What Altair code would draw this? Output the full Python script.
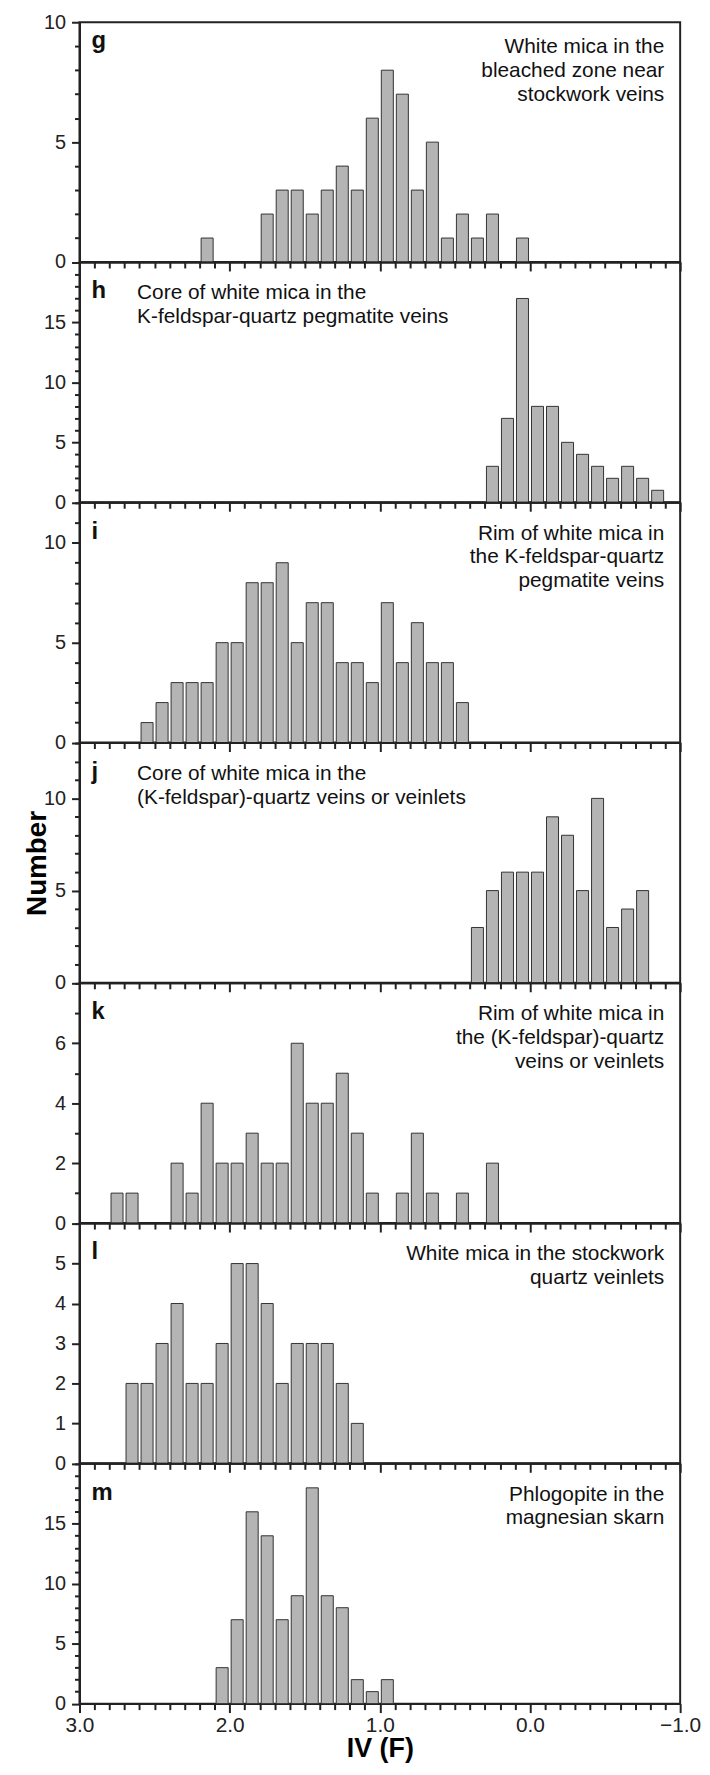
import altair as alt
import pandas as pd

# ---------------- data (bin centres of IV(F), 0.1-wide bins, and counts) ----------------
g_centers = [2.15, 1.75, 1.65, 1.55, 1.45, 1.35, 1.25, 1.15, 1.05, 0.95, 0.85, 0.75,
             0.65, 0.55, 0.45, 0.35, 0.25, 0.05]
g_counts = [1, 2, 3, 3, 2, 3, 4, 3, 6, 8, 7, 3, 5, 1, 2, 1, 2, 1]

h_centers = [0.25, 0.15, 0.05, -0.05, -0.15, -0.25, -0.35, -0.45, -0.55, -0.65, -0.75, -0.85]
h_counts = [3, 7, 17, 8, 8, 5, 4, 3, 2, 3, 2, 1]

i_centers = [2.55, 2.45, 2.35, 2.25, 2.15, 2.05, 1.95, 1.85, 1.75, 1.65, 1.55, 1.45,
             1.35, 1.25, 1.15, 1.05, 0.95, 0.85, 0.75, 0.65, 0.55, 0.45]
i_counts = [1, 2, 3, 3, 3, 5, 5, 8, 8, 9, 5, 7, 7, 4, 4, 3, 7, 4, 6, 4, 4, 2]

j_centers = [0.35, 0.25, 0.15, 0.05, -0.05, -0.15, -0.25, -0.35, -0.45, -0.55, -0.65, -0.75]
j_counts = [3, 5, 6, 6, 6, 9, 8, 5, 10, 3, 4, 5]

k_centers = [2.75, 2.65, 2.35, 2.25, 2.15, 2.05, 1.95, 1.85, 1.75, 1.65, 1.55, 1.45,
             1.35, 1.25, 1.15, 1.05, 0.85, 0.75, 0.65, 0.45, 0.25]
k_counts = [1, 1, 2, 1, 4, 2, 2, 3, 2, 2, 6, 4, 4, 5, 3, 1, 1, 3, 1, 1, 2]

l_centers = [2.65, 2.55, 2.45, 2.35, 2.25, 2.15, 2.05, 1.95, 1.85, 1.75, 1.65, 1.55,
             1.45, 1.35, 1.25, 1.15]
l_counts = [2, 2, 3, 4, 2, 2, 3, 5, 5, 4, 2, 3, 3, 3, 2, 1]

m_centers = [2.05, 1.95, 1.85, 1.75, 1.65, 1.55, 1.45, 1.35, 1.25, 1.15, 1.05, 0.95]
m_counts = [3, 7, 16, 14, 7, 9, 18, 9, 8, 2, 1, 2]

# axis tick labels
x_major_labels = [3.0, 2.0, 1.0, 0.0, -1.0]
x_minor_step = 0.1
y_labels = {
    "g": [0, 5, 10], "h": [0, 5, 10, 15], "i": [0, 5, 10], "j": [0, 5, 10],
    "k": [0, 2, 4, 6], "l": [0, 1, 2, 3, 4, 5], "m": [0, 5, 10, 15],
}
y_max = {"g": 10, "h": 20, "i": 12, "j": 13, "k": 8, "l": 6, "m": 20}

texts = {
    "g": ["White mica in the", "bleached zone near", "stockwork veins"],
    "h": ["Core of white mica in the", "K-feldspar-quartz pegmatite veins"],
    "i": ["Rim of white mica in", "the K-feldspar-quartz", "pegmatite veins"],
    "j": ["Core of white mica in the", "(K-feldspar)-quartz veins or veinlets"],
    "k": ["Rim of white mica in", "the (K-feldspar)-quartz", "veins or veinlets"],
    "l": ["White mica in the stockwork", "quartz veinlets"],
    "m": ["Phlogopite in the", "magnesian skarn"],
}
text_align = {"g": "right", "h": "left", "i": "right", "j": "left",
              "k": "right", "l": "right", "m": "right"}

# ---------------- style ----------------
FONT = "Liberation Sans"
FRAME = "#222222"
W, H = 605, 241.5
BAR_HALF = 0.04

x_tick_values = [round(x_major_labels[0] - x_minor_step * k, 1)
                 for k in range(int(round((x_major_labels[0] - x_major_labels[-1]) / x_minor_step)) + 1)]
major_x_test = "abs(datum.value - round(datum.value)) < 0.001"


def panel(key, centers, counts, bottom=False, ytitle=False):
    df = pd.DataFrame({"c": centers, "n": counts})
    ymax = y_max[key]
    labs = y_labels[key]
    lab_arr = "[" + ",".join(str(v) for v in labs) + "]"
    ytest = f"indexof({lab_arr}, datum.value) >= 0"

    xaxis_kw = dict(
        values=x_tick_values,
        tickSize={"condition": {"test": major_x_test, "value": 9}, "value": 6},
        labels=bottom,
        labelExpr=f"{major_x_test} ? format(datum.value, '.1f') : ''",
        labelOverlap=False,
        labelFlush=False,
        labelFontSize=21,
        labelPadding=2,
        grid=False,
    )
    if bottom:
        xaxis_kw.update(title="IV (F)", titleFontSize=27, titleFontWeight="bold",
                        titlePadding=0, titleColor="#000")
    xaxis = alt.Axis(**xaxis_kw)

    yaxis_kw = dict(
        values=list(range(0, ymax + 1)),
        tickSize={"condition": {"test": ytest, "value": 8}, "value": 5},
        labelExpr=f"{ytest} ? datum.label : ''",
        labelOverlap=False,
        labelFontSize=20,
        labelPadding=6,
        grid=False,
    )
    if ytitle:
        yaxis_kw.update(title="Number", titleFontSize=28, titleFontWeight="bold",
                        titleX=-28, titleY=H / 2, titleColor="#000")
    yaxis = alt.Axis(**yaxis_kw)

    xscale = alt.Scale(domain=[-1, 3], reverse=True, nice=False, zero=False)
    yscale = alt.Scale(domain=[0, ymax], nice=False)
    if bottom:
        xenc = alt.X("x1:Q", scale=xscale, axis=xaxis)
    else:
        xenc = alt.X("x1:Q", scale=xscale, axis=xaxis, title=None)
    if ytitle:
        yenc = alt.Y("n:Q", scale=yscale, axis=yaxis)
    else:
        yenc = alt.Y("n:Q", scale=yscale, axis=yaxis, title=None)

    bars = (
        alt.Chart(df)
        .transform_calculate(x1=f"datum.c + {BAR_HALF}", x2=f"datum.c - {BAR_HALF}")
        .mark_rect(fill="#b4b4b4", stroke="#333333", strokeWidth=1)
        .encode(x=xenc, x2="x2:Q", y=yenc, y2=alt.datum(0))
    )

    letter_base = 26 if key == "g" else 36
    text_base = 31 if key == "g" else 37
    letter = (
        alt.Chart(pd.DataFrame({"t": [key]}))
        .mark_text(align="left", baseline="alphabetic", fontSize=24, fontWeight="bold",
                   font=FONT, color="#111")
        .encode(text="t:N", x=alt.value(12), y=alt.value(letter_base))
    )
    al = text_align[key]
    tx = W - 16 if al == "right" else 58
    note = (
        alt.Chart(pd.DataFrame({"t": [0]}))
        .mark_text(text=texts[key], align=al, baseline="alphabetic", fontSize=21,
                   lineHeight=24, font=FONT, color="#111")
        .encode(x=alt.value(tx), y=alt.value(text_base))
    )
    return alt.layer(bars, letter, note).properties(width=W, height=H)


panels = [
    panel("g", g_centers, g_counts),
    panel("h", h_centers, h_counts),
    panel("i", i_centers, i_counts),
    panel("j", j_centers, j_counts, ytitle=True),
    panel("k", k_centers, k_counts),
    panel("l", l_centers, l_counts),
    panel("m", m_centers, m_counts, bottom=True),
]

chart = (
    alt.vconcat(*panels, spacing=0, bounds="flush")
    .properties(padding={"left": 15, "top": -3, "right": 0, "bottom": 0})
    .configure_view(stroke=FRAME, strokeWidth=2)
    .configure_axis(domainColor=FRAME, domainWidth=2, tickColor=FRAME, tickWidth=2,
                    labelColor="#222", labelFont=FONT, titleFont=FONT)
)

chart.save("out.html", embed_options={"renderer": "svg", "actions": False})
